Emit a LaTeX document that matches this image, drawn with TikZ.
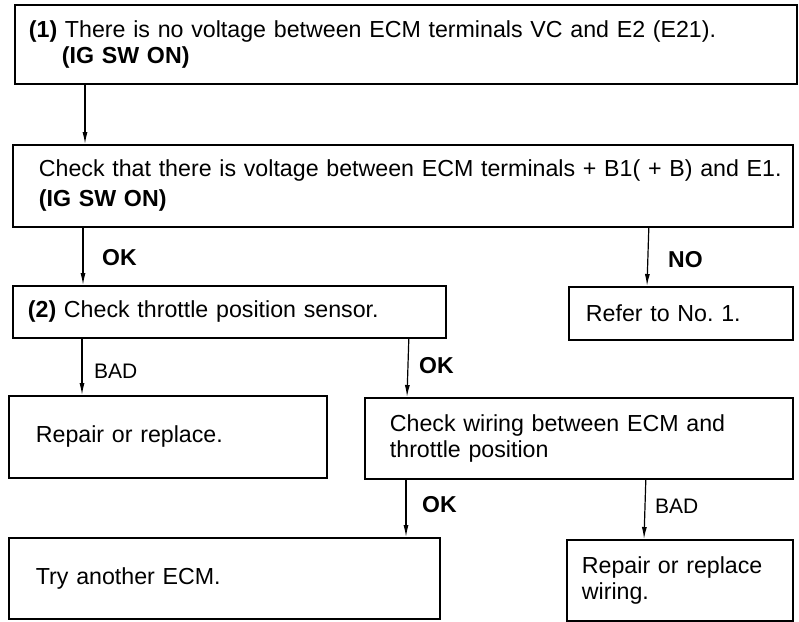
\documentclass[tikz,border=0pt]{standalone}
\usepackage{fontspec}
\setmainfont{Liberation Sans}
\usetikzlibrary{arrows.meta}
\begin{document}
\begin{tikzpicture}[x=1pt, y=-1pt, >={Latex[length=12pt,width=5pt]},
  box/.style={draw, line width=1.8pt, anchor=north west, align=left,
    inner ysep=0pt, font=\fontsize{23.2}{26}\selectfont},
  flow/.style={->, line width=1.2pt},
  lbl/.style={anchor=base west, inner sep=0pt, font=\fontsize{21}{24}\selectfont},
  lblb/.style={lbl, font=\fontsize{23}{26}\bfseries}]
  \useasboundingbox (0,0) rectangle (799,621);

  \node[box, inner xsep=14pt, text width=754pt, minimum height=79pt] (nov) at (14,4)
    {\textbf{(1)} There is no voltage between ECM terminals VC and E2 (E21).\\
     \hspace*{33pt}\textbf{(IG SW ON)}};
  \node[box, inner xsep=26pt, text width=728pt, minimum height=82pt] (chkb) at (12,144)
    {\mbox{Check that there is voltage between ECM terminals + B1( + B) and E1.}\\[4pt]
     \textbf{(IG SW ON)}};
  \node[box, inner xsep=15pt, text width=403pt, minimum height=52pt] (tps) at (12,285)
    {\textbf{(2)} Check throttle position sensor.};
  \node[box, inner xsep=17pt, text width=190pt, minimum height=53pt] (refer) at (568,286)
    {Refer to No.\ 1.};
  \node[box, inner xsep=27pt, text width=264pt, minimum height=82pt] (repl) at (8,395)
    {Repair or replace.};
  \node[box, inner xsep=25pt, text width=378pt, minimum height=81pt] (wire) at (364,397)
    {Check wiring between ECM and\\ throttle position};
  \node[box, inner xsep=27pt, text width=377pt, minimum height=81pt] (ecm) at (8,537)
    {Try another ECM.};
  \node[box, inner xsep=15pt, text width=196pt, minimum height=81pt] (replw) at (566,539)
    {Repair or replace\\ wiring.};

  \draw[flow] ([xshift=71pt]nov.south west) -- ([xshift=73pt]chkb.north west);
  \draw[flow] ([xshift=71pt]chkb.south west) -- ([xshift=71pt]tps.north west);
  \draw[flow] ([xshift=-145pt]chkb.south east) -- ([xshift=79pt]refer.north west);
  \draw[flow] ([xshift=70pt]tps.south west) -- ([xshift=74pt]repl.north west);
  \draw[flow] ([xshift=-38pt]tps.south east) -- ([xshift=43pt]wire.north west);
  \draw[flow] ([xshift=42pt]wire.south west) -- ([xshift=398pt]ecm.north west);
  \draw[flow] ([xshift=-148pt]wire.south east) -- ([xshift=78pt]replw.north west);

  \node[lblb] (ok1) at (102,265) {OK};
  \node[lblb] (no1) at (668,267) {NO};
  \node[lbl] (bad1) at (94,378) {BAD};
  \node[lblb] (ok2) at (419,373) {OK};
  \node[lblb] (ok3) at (422,512) {OK};
  \node[lbl] (bad2) at (655,513) {BAD};
\end{tikzpicture}
\end{document}
